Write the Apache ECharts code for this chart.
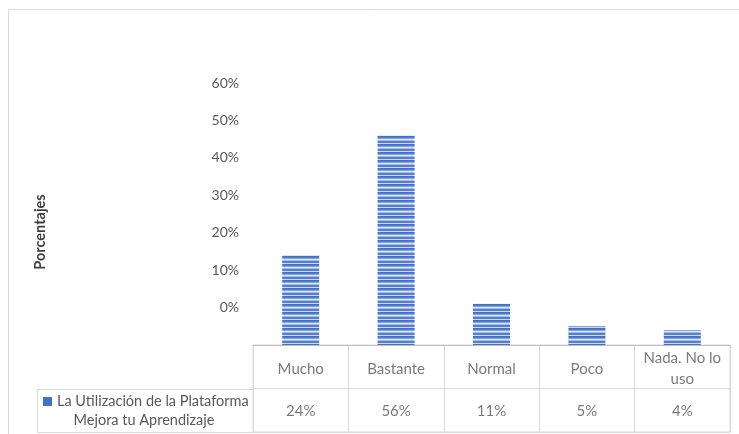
<!DOCTYPE html>
<html>
<head>
<meta charset="utf-8">
<script src="https://cdn.jsdelivr.net/npm/echarts@6/dist/echarts.min.js"></script>
<style>
  html, body { margin: 0; padding: 0; background: #fff; }
  #chart { width: 739px; height: 434px; }
</style>
</head>
<body>
<div id="chart"></div>
<script>
// data
var categories = ['Mucho', 'Bastante', 'Normal', 'Poco', 'Nada. No lo\nuso'];
var values = [24, 56, 11, 5, 4];
var seriesName = 'La Utilización de la Plataforma Mejora tu Aprendizaje';
var legendLine1 = 'La Utilización de la Plataforma';
var legendLine2 = 'Mejora tu Aprendizaje';
var yTickLabels = ['0%', '10%', '20%', '30%', '40%', '50%', '60%'];
var tableRows = ['vals', 'cats'];

var font = 'Lato';
var txtColor = '#595959';
var lineColor = '#d9d9d9';
var blue = '#4472c4';

// striped fill like the original bars
function stripes() {
  var c = document.createElement('canvas');
  c.width = 4; c.height = 8;
  var ctx = c.getContext('2d');
  var rows = ['#4472c4', '#4a77c8', '#8aa8df', '#dbe4f5', '#a9bfe8', '#4d7acb', '#5a84cf', '#c9d7f1'];
  rows.forEach(function (col, i) {
    ctx.fillStyle = col;
    ctx.fillRect(0, i, 4, 1);
  });
  return c;
}

var chart = echarts.init(document.getElementById('chart'));

var option = {
  animation: false,
  textStyle: { fontFamily: font },
  graphic: [
    {
      type: 'rect',
      shape: { x: 8.5, y: 9.5, width: 800, height: 500 },
      style: { fill: 'none', stroke: lineColor, lineWidth: 1 },
      silent: true
    },
    {
      type: 'polyline',
      shape: { points: [[253, 389.5], [37.5, 389.5], [37.5, 432.5], [253, 432.5]] },
      style: { fill: 'none', stroke: lineColor, lineWidth: 1 },
      silent: true
    },
    {
      type: 'text',
      x: 144,
      y: 413,
      silent: true,
      style: { text: legendLine2, fill: txtColor, font: '14.5px ' + font, align: 'center' }
    }
  ],
  legend: {
    data: [seriesName],
    left: 43,
    top: 394,
    padding: 0,
    icon: 'rect',
    itemWidth: 9,
    itemHeight: 9,
    itemGap: 5,
    itemStyle: { color: blue },
    formatter: function () { return legendLine1; },
    textStyle: { color: txtColor, fontFamily: font, fontSize: 14.5 }
  },
  grid: [
    { left: 253, right: 9, top: 83, bottom: 89 },
    { left: 253, right: 9, top: 345, height: 87, show: true, borderColor: lineColor, borderWidth: 1 }
  ],
  xAxis: [
    {
      type: 'category',
      data: categories,
      gridIndex: 0,
      axisLine: { show: true, lineStyle: { color: '#bfbfbf' } },
      axisTick: { show: false },
      axisLabel: { show: false }
    },
    {
      type: 'category',
      data: categories,
      gridIndex: 1,
      axisLine: { show: false },
      axisTick: { show: false },
      axisLabel: { show: false },
      splitLine: { show: true, lineStyle: { color: lineColor } }
    }
  ],
  yAxis: [
    {
      type: 'value',
      gridIndex: 0,
      min: 0,
      max: 70,
      interval: 10,
      name: 'Porcentajes',
      nameLocation: 'middle',
      nameRotate: 90,
      nameGap: 205,
      nameTextStyle: { color: '#404040', fontWeight: 'bold', fontSize: 14.5, fontFamily: font, padding: [0, 36, 0, 0] },
      axisLine: { show: false },
      axisTick: { show: false },
      splitLine: { show: false },
      axisLabel: {
        color: txtColor,
        fontSize: 14,
        margin: 14,
        formatter: function (v) {
          return v === 0 ? '' : yTickLabels[v / 10 - 1];
        }
      }
    },
    {
      type: 'category',
      data: tableRows,
      gridIndex: 1,
      axisLine: { show: false },
      axisTick: { show: false },
      axisLabel: { show: false },
      splitLine: { show: true, lineStyle: { color: lineColor } }
    }
  ],
  series: [
    {
      name: seriesName,
      type: 'bar',
      xAxisIndex: 0,
      yAxisIndex: 0,
      barWidth: 37,
      data: values,
      itemStyle: {
        color: { image: stripes(), repeat: 'repeat' }
      }
    },
    {
      type: 'scatter',
      xAxisIndex: 1,
      yAxisIndex: 1,
      symbolSize: 1,
      itemStyle: { color: 'rgba(0,0,0,0)' },
      silent: true,
      data: categories.map(function (c) { return [c, 'cats']; }),
      label: {
        show: true,
        position: 'inside',
        offset: [0, 2],
        color: txtColor,
        fontSize: 15,
        fontFamily: font,
        lineHeight: 21,
        align: 'center',
        formatter: function (p) { return p.value[0]; }
      }
    },
    {
      type: 'scatter',
      xAxisIndex: 1,
      yAxisIndex: 1,
      symbolSize: 1,
      itemStyle: { color: 'rgba(0,0,0,0)' },
      silent: true,
      data: categories.map(function (c, i) { return [c, 'vals', values[i]]; }),
      label: {
        show: true,
        position: 'inside',
        offset: [0, 1],
        color: txtColor,
        fontSize: 15,
        fontFamily: font,
        formatter: function (p) { return p.value[2] + '%'; }
      }
    }
  ]
};

chart.setOption(option);
</script>
</body>
</html>
